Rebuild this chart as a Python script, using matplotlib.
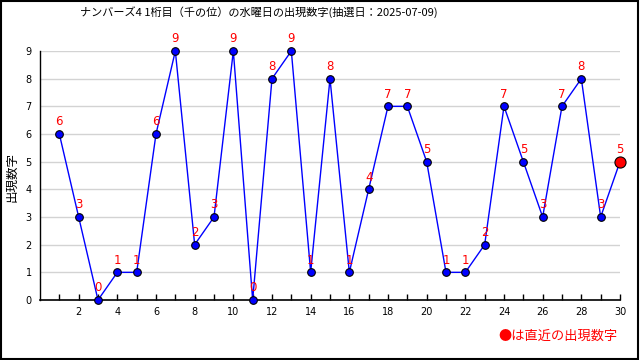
import matplotlib
matplotlib.use("Agg")
import matplotlib.pyplot as plt
from matplotlib.patches import Rectangle

plt.rcParams['font.family'] = ['Noto Sans CJK JP', 'DejaVu Sans']

draws = list(range(1, 31))
values = [6, 3, 0, 1, 1, 6, 9, 2, 3, 9, 0, 8, 9, 1, 8, 1, 4, 7, 7, 5,
          1, 1, 2, 7, 5, 3, 7, 8, 3, 5]
xticks_major = list(range(2, 31, 2))
yticks = list(range(0, 10))
title = "ナンバーズ4 1桁目（千の位）の水曜日の出現数字(抽選日：2025-07-09)"
ylabel = "出現数字"
note = "●は直近の出現数字"

fig = plt.figure(figsize=(6.4, 3.6), dpi=100)
ax = fig.add_axes([40/640, 1-300/360, 580/640, 249/360])

ax.plot(draws, values, color='#0000ff', lw=1, zorder=3, clip_on=False)
ax.plot(draws[:-1], values[:-1], 'o', color='#0000ff', mec='black', mew=0.8,
        ms=5.5, zorder=4, clip_on=False)
ax.plot(draws[-1:], values[-1:], 'o', color='#ff0000', mec='black', mew=0.8,
        ms=8, zorder=5, clip_on=False)
for x, v in zip(draws, values):
    ax.annotate(str(v), (x, v), xytext=(0, 4), textcoords='offset points',
                ha='center', va='bottom', color='#ff0000', fontsize=8.5,
                family='DejaVu Sans', zorder=6, annotation_clip=False)

ax.set_xlim(0, 30)
ax.set_ylim(0, 9)
ax.set_xticks(xticks_major)
ax.set_xticks(draws, minor=True)
ax.set_yticks(yticks)
ax.tick_params(axis='x', which='both', direction='in', length=4, width=1,
               labelsize=7, pad=5, colors='black')
ax.tick_params(axis='y', length=0, labelsize=7, pad=6)
for lab in ax.get_xticklabels() + ax.get_yticklabels():
    lab.set_family('DejaVu Sans')
ax.grid(axis='y', color='#d3d3d3', lw=1, zorder=0)
ax.set_axisbelow(True)
for s in ['top', 'right']:
    ax.spines[s].set_visible(False)
ax.spines['left'].set_linewidth(1)
ax.spines['bottom'].set_linewidth(1.2)

fig.text(12/640, 1-177/360, ylabel, rotation=90, ha='center', va='center',
         fontsize=9)
fig.text(259/640, 1-12/360, title, ha='center', va='center', fontsize=8)
fig.text(618/640, 1-336/360, note, ha='right', va='center', fontsize=9.5,
         color='#ff0000')

fig.patches.append(Rectangle((0.001, 0.003), 0.996, 0.995, transform=fig.transFigure,
                             fill=False, ec='black', lw=1.5))

fig.savefig('out.png', dpi=100)
